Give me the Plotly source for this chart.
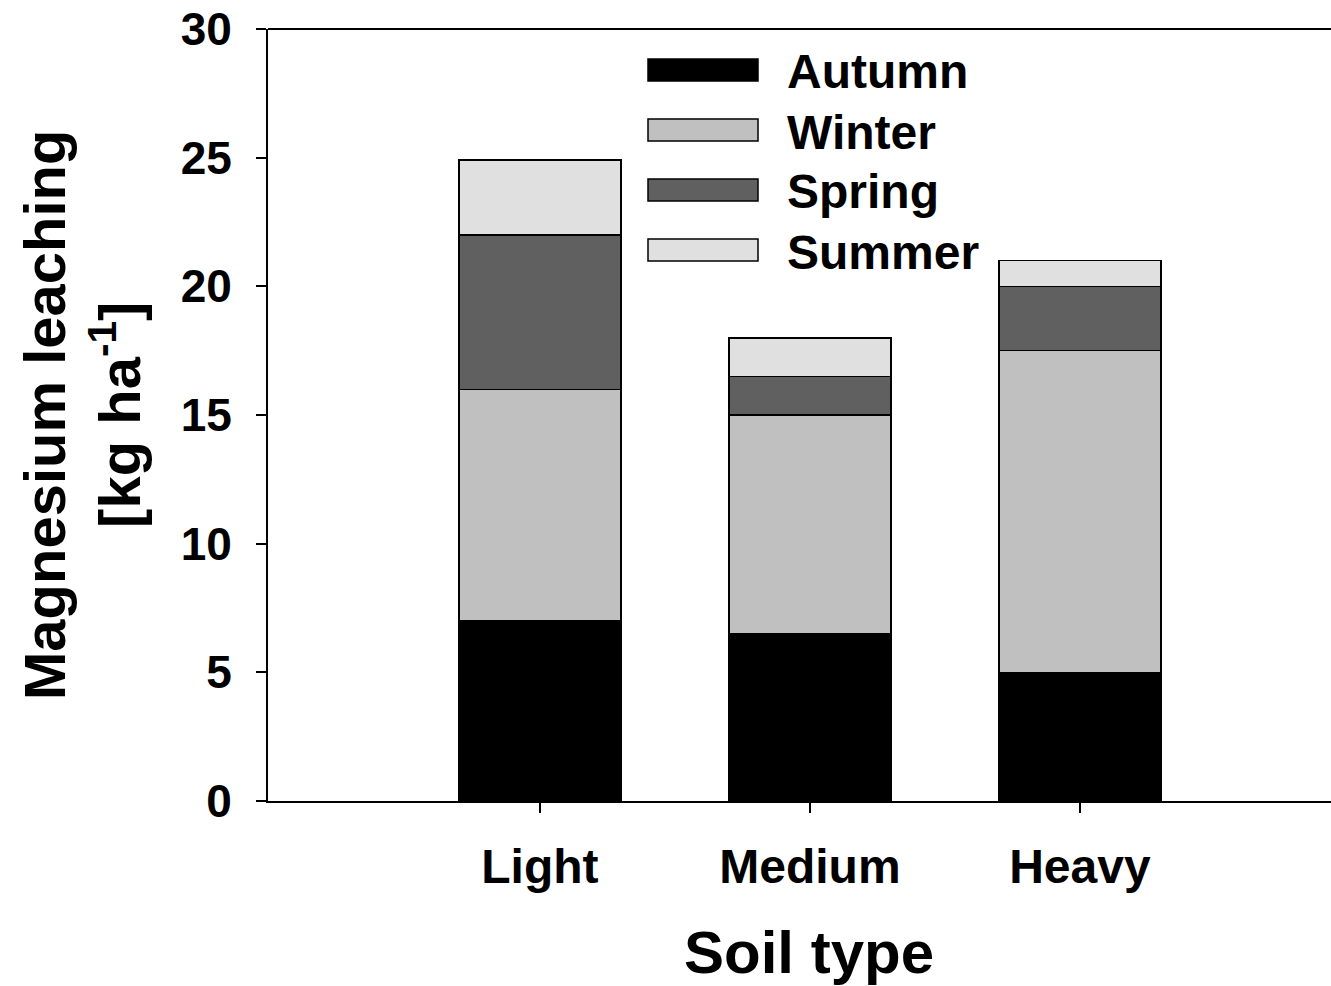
import plotly.graph_objects as go

soil_types = ["Light", "Medium", "Heavy"]
seasons = ["Autumn", "Winter", "Spring", "Summer"]
autumn = [7.0, 6.5, 5.0]
winter = [9.0, 8.5, 12.5]
spring = [6.0, 1.5, 2.5]
summer = [2.9, 1.5, 1.0]
season_values = [autumn, winter, spring, summer]
season_colors = ["#000000", "#c0c0c0", "#606060", "#e0e0e0"]
y_ticks = [0, 5, 10, 15, 20, 25, 30]

W, H = 1331, 986
ML, MR, MT, MB = 268, 0, 29, 185
PW, PH = W - ML - MR, H - MT - MB
FONT = "Liberation Sans, Arial, sans-serif"


def px_x(px):
    return (px - ML) / PW


def px_y(py):
    return (H - MB - py) / PH


fig = go.Figure()
for name, vals, col in zip(seasons, season_values, season_colors):
    fig.add_trace(go.Bar(
        x=soil_types, y=vals, name=name, width=0.6,
        marker=dict(color=col, line=dict(color="black", width=1.5)),
        showlegend=False,
    ))

shapes = [dict(type="line", xref="paper", yref="paper", x0=0, x1=1, y0=1, y1=1,
               line=dict(color="black", width=2))]
annotations = []
for i, (name, col) in enumerate(zip(seasons, season_colors)):
    cy = 70 + 60 * i
    shapes.append(dict(type="rect", xref="paper", yref="paper",
                       x0=px_x(648), x1=px_x(758), y0=px_y(cy - 11), y1=px_y(cy + 11),
                       fillcolor=col, line=dict(color="black", width=1.5)))
    annotations.append(dict(xref="paper", yref="paper", x=px_x(785), y=px_y(cy + 2),
                            xanchor="left", yanchor="middle", showarrow=False,
                            text=name, font=dict(family=FONT, size=48, color="black", weight="bold")))

annotations.append(dict(xref="paper", yref="paper", x=0, y=0.5, xshift=82 - ML,
                        xanchor="center", yanchor="middle", textangle=-90, showarrow=False,
                        text="Magnesium leaching<br>[kg ha<sup>-1</sup>]",
                        font=dict(family=FONT, size=58, color="black", weight="bold")))
annotations.append(dict(xref="paper", yref="paper", x=px_x(809), y=0, yshift=-(952 - (H - MB)),
                        xanchor="center", yanchor="middle", showarrow=False,
                        text="Soil type",
                        font=dict(family=FONT, size=60, color="black", weight="bold")))

fig.update_layout(
    barmode="stack",
    width=W, height=H,
    margin=dict(l=ML, r=MR, t=MT, b=MB, pad=0),
    paper_bgcolor="white", plot_bgcolor="white",
    font=dict(family=FONT, color="black"),
    shapes=shapes, annotations=annotations,
    xaxis=dict(range=[-1.007, 2.93], showline=True, linecolor="black", linewidth=2,
               ticks="outside", ticklen=10, tickwidth=2, tickcolor="black",
               showgrid=False, zeroline=False, ticklabelstandoff=12,
               tickfont=dict(family=FONT, size=48, color="black", weight="bold")),
    yaxis=dict(range=[0, 30], tickvals=y_ticks, showline=True, linecolor="black", linewidth=2,
               ticks="outside", ticklen=10, tickwidth=2, tickcolor="black",
               showgrid=False, zeroline=False, ticklabelstandoff=15,
               tickfont=dict(family=FONT, size=46, color="black", weight="bold")),
)

fig.write_html("out.html")
